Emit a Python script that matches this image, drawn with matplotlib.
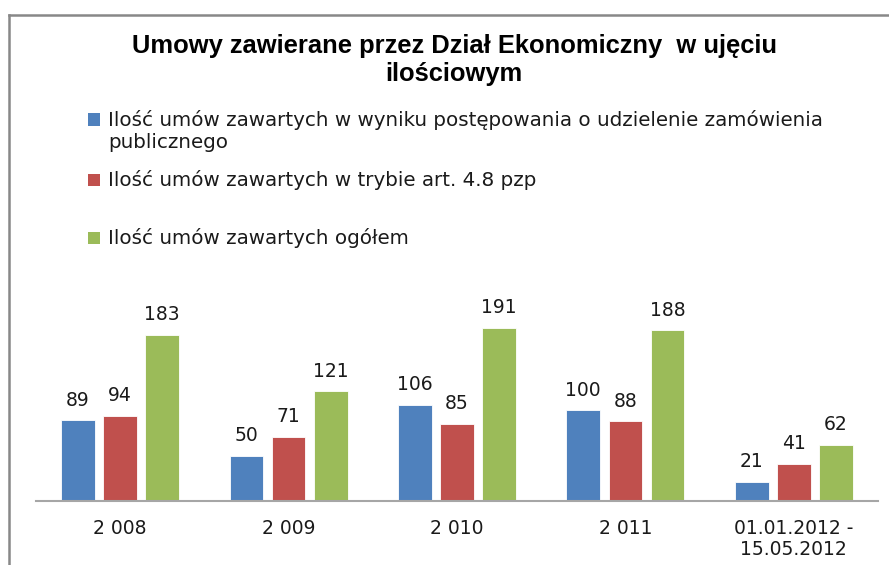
import matplotlib
matplotlib.use("Agg")
import matplotlib.pyplot as plt
from matplotlib.patches import Rectangle
from matplotlib.lines import Line2D
import numpy as np

categories = ["2 008", "2 009", "2 010", "2 011", "01.01.2012 -\n15.05.2012"]
series_names = [
    "Ilość umów zawartych w wyniku postępowania o udzielenie zamówienia\npublicznego",
    "Ilość umów zawartych w trybie art. 4.8 pzp",
    "Ilość umów zawartych ogółem",
]
przetargi = [89, 50, 106, 100, 21]
art48 = [94, 71, 85, 88, 41]
ogolem = [183, 121, 191, 188, 62]
colors = ["#4F81BD", "#C0504D", "#9BBB59"]
title = "Umowy zawierane przez Dział Ekonomiczny  w ujęciu\nilościowym"

W, H = 889, 565
fig = plt.figure(figsize=(W / 100, H / 100), dpi=100)
plt.rcParams['font.family'] = ['DejaVu Sans']

# axes placement (pixels)
ax_left, ax_right = 36, 878
ax_bottom = 501
ax_top = ax_bottom - 0.907 * 200
ax = fig.add_axes([ax_left / W, (H - ax_bottom) / H, (ax_right - ax_left) / W, (ax_bottom - ax_top) / H])

x = np.arange(len(categories))
bw = 0.2
offs = [-0.25, 0, 0.25]
for vals, off, col in zip([przetargi, art48, ogolem], offs, colors):
    bars = ax.bar(x + off, vals, width=bw, color=col, edgecolor="white", linewidth=0.6)
    for b, v in zip(bars, vals):
        ax.annotate(str(v), (b.get_x() + b.get_width() / 2, v), xytext=(0, 14.5),
                    textcoords="offset points", ha="center", va="center",
                    fontsize=13.5, color="#1a1a1a", clip_on=False)

ax.set_xlim(-0.5, len(categories) - 0.5)
ax.set_ylim(0, 200)
for s in ["top", "right", "left"]:
    ax.spines[s].set_visible(False)
ax.spines["bottom"].set_color("#A6A6A6")
ax.spines["bottom"].set_linewidth(1.5)
ax.set_yticks([])
ax.set_xticks(x)
ax.set_xticklabels(categories, fontsize=13.5, color="#1a1a1a", linespacing=1.1, va="top")
ax.tick_params(axis="x", length=0, pad=13)
ax.patch.set_alpha(0)

# title
fig.text(454 / W, 1 - 60 / H, title, ha="center", va="center", fontsize=18.4,
         fontweight="bold", family="Liberation Sans", linespacing=1.2, color="#000000")

# legend (manual)
square_y = [119.5, 179.5, 238]
text_y = [131.5, 179.5, 238]
for name, col, sy, ty in zip(series_names, colors, square_y, text_y):
    fig.patches.append(Rectangle((88 / W, 1 - (sy + 6) / H), 12 / W, 12 / H,
                                 transform=fig.transFigure, facecolor=col, edgecolor="none"))
    fig.text(108 / W, 1 - ty / H, name, ha="left", va="center",
             fontsize=14.3, color="#1a1a1a", linespacing=1.2)

# border
fig.lines.append(Line2D([8.5 / W, 1], [1 - 14.5 / H, 1 - 14.5 / H], transform=fig.transFigure,
                        color="#888888", linewidth=1.8))
fig.lines.append(Line2D([8.5 / W, 8.5 / W], [0, 1 - 14.5 / H], transform=fig.transFigure,
                        color="#888888", linewidth=1.8))

fig.savefig("out.png", dpi=100)
